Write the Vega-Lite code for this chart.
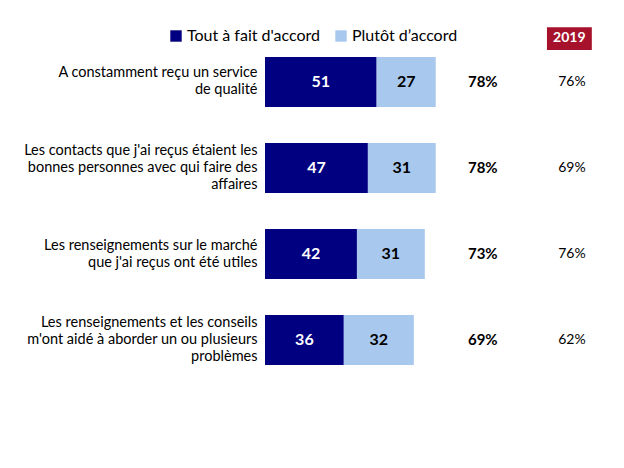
{
  "$schema": "https://vega.github.io/schema/vega-lite/v6.json",
  "width": 359,
  "height": 372,
  "autosize": {"type": "none"},
  "padding": {"left": 265, "top": 25, "right": 0, "bottom": 0},
  "background": "white",
  "config": {"view": {"stroke": null}, "font": "Lato", "text": {"font": "Lato"}},
  "datasets": {
    "bars": [
      {"item": "A constamment reçu un service|de qualité", "type": "Tout à fait d'accord", "value": 51},
      {"item": "A constamment reçu un service|de qualité", "type": "Plutôt d’accord", "value": 27},
      {"item": "Les contacts que j'ai reçus étaient les|bonnes personnes avec qui faire des|affaires", "type": "Tout à fait d'accord", "value": 47},
      {"item": "Les contacts que j'ai reçus étaient les|bonnes personnes avec qui faire des|affaires", "type": "Plutôt d’accord", "value": 31},
      {"item": "Les renseignements sur le marché|que j'ai reçus ont été utiles", "type": "Tout à fait d'accord", "value": 42},
      {"item": "Les renseignements sur le marché|que j'ai reçus ont été utiles", "type": "Plutôt d’accord", "value": 31},
      {"item": "Les renseignements et les conseils|m'ont aidé à aborder un ou plusieurs|problèmes", "type": "Tout à fait d'accord", "value": 36},
      {"item": "Les renseignements et les conseils|m'ont aidé à aborder un ou plusieurs|problèmes", "type": "Plutôt d’accord", "value": 32}
    ],
    "rows": [
      {"item": "A constamment reçu un service|de qualité", "total": "78%", "prev": "76%"},
      {"item": "Les contacts que j'ai reçus étaient les|bonnes personnes avec qui faire des|affaires", "total": "78%", "prev": "69%"},
      {"item": "Les renseignements sur le marché|que j'ai reçus ont été utiles", "total": "73%", "prev": "76%"},
      {"item": "Les renseignements et les conseils|m'ont aidé à aborder un ou plusieurs|problèmes", "total": "69%", "prev": "62%"}
    ],
    "header": [{"label": "2019"}]
  },
  "resolve": {"scale": {"y": "independent"}, "axis": {"y": "independent"}},
  "layer": [
    {
      "layer": [
        {
          "data": {"name": "bars"},
          "mark": {"type": "bar"},
          "encoding": {
            "y": {
              "field": "item", "type": "nominal", "sort": null,
              "scale": {"paddingInner": 0.419, "paddingOuter": 0.372},
              "axis": {
                "title": null, "ticks": false, "domain": false,
                "labelExpr": "split(datum.label, '|')",
                "labelAlign": "right", "labelPadding": 8, "labelFontSize": 14.5,
                "labelLineHeight": 17, "labelColor": "#000000", "labelLimit": 260,
                "labelFont": "Lato",
                "labelOffset": {"condition": {"test": "length(split(datum.label, '|')) >= 3", "value": -17}, "value": -8.5}
              }
            },
            "x": {
              "field": "value", "type": "quantitative", "stack": "zero",
              "scale": {"domain": [0, 164], "nice": false, "zero": true},
              "axis": null
            },
            "color": {
              "field": "type", "type": "nominal",
              "scale": {"domain": ["Tout à fait d'accord", "Plutôt d’accord"], "range": ["#000080", "#a9c8ee"]},
              "legend": {
                "title": null, "orient": "none", "direction": "horizontal",
                "legendX": -97, "legendY": 3,
                "symbolType": "square", "symbolSize": 130, "symbolStrokeWidth": 0,
                "labelFontSize": 16, "labelFont": "Lato", "labelColor": "#000000",
                "columnPadding": 12, "labelOffset": 3
              }
            },
            "order": {"field": "type", "sort": "descending"}
          }
        },
        {
          "data": {"name": "bars"},
          "transform": [
            {"stack": "value", "groupby": ["item"], "sort": [{"field": "type", "order": "descending"}], "as": ["v0", "v1"]},
            {"calculate": "(datum.v0 + datum.v1) / 2", "as": "mid"}
          ],
          "mark": {"type": "text", "fontSize": 16, "fontWeight": "bold", "font": "Lato"},
          "encoding": {
            "y": {"field": "item", "type": "nominal", "sort": null},
            "x": {"field": "mid", "type": "quantitative"},
            "text": {"field": "value", "type": "quantitative"},
            "color": {"condition": {"test": "datum.type === \"Tout à fait d'accord\"", "value": "#ffffff"}, "value": "#000000"}
          }
        },
        {
          "data": {"name": "rows"},
          "mark": {"type": "text", "fontSize": 15, "fontWeight": "bold", "font": "Lato", "color": "#000000"},
          "encoding": {
            "y": {"field": "item", "type": "nominal", "sort": null},
            "x": {"datum": 99.5, "type": "quantitative"},
            "text": {"field": "total"}
          }
        },
        {
          "data": {"name": "rows"},
          "mark": {"type": "text", "fontSize": 14, "font": "Lato", "color": "#000000"},
          "encoding": {
            "y": {"field": "item", "type": "nominal", "sort": null},
            "x": {"datum": 140.2, "type": "quantitative"},
            "text": {"field": "prev"}
          }
        }
      ]
    },
    {
      "data": {"name": "header"},
      "layer": [
        {
          "mark": {"type": "rect", "color": "#a6122b"},
          "encoding": {
            "x": {"datum": 128.8, "type": "quantitative"},
            "x2": {"datum": 149.3},
            "y": {"datum": 99.4, "type": "quantitative", "scale": {"domain": [0, 100], "nice": false}, "axis": null},
            "y2": {"datum": 93.3}
          }
        },
        {
          "mark": {"type": "text", "color": "#ffffff", "fontWeight": "bold", "fontSize": 14, "font": "Lato"},
          "encoding": {
            "x": {"datum": 139, "type": "quantitative"},
            "y": {"datum": 96.4, "type": "quantitative"},
            "text": {"field": "label"}
          }
        }
      ]
    }
  ]
}
